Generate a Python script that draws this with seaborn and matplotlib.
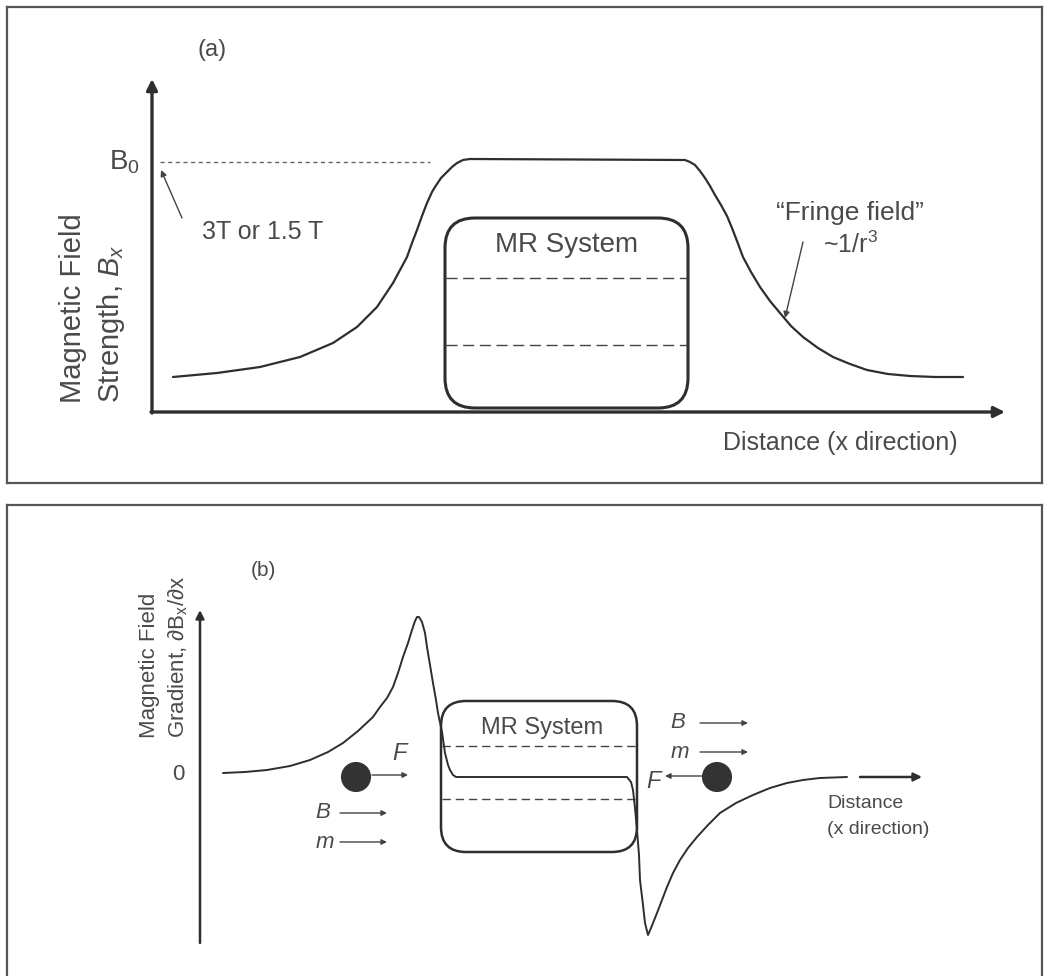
import numpy as np
import seaborn as sns
import matplotlib.pyplot as plt
from matplotlib.patches import FancyBboxPatch

# ---- Data ----
# (a) field strength vs distance (units: distance from the axis origin)
dist_a = [21, 65, 108, 148, 181, 205, 225, 241, 248, 255, 260, 265, 270, 275, 280, 283,
          289, 295, 300, 305, 311, 318,
          533, 538, 543, 548, 553, 558, 563, 569, 575, 580, 585, 591, 599, 608, 618, 628,
          639, 651, 666, 681, 698, 715, 736, 758, 783, 811]
field_a = [35, 39, 45, 55, 69, 85, 105, 129, 142, 155, 169, 182, 196, 209, 220, 225,
           234, 240, 245, 249, 252, 253,
           252, 250, 247, 241, 234, 226, 217, 207, 196, 184, 171, 155, 140, 125, 111, 99,
           86, 75, 64, 55, 48, 42, 38, 36, 35, 35]
b0_level = 250

# (b) field gradient vs distance
dist_b = [23, 45, 67, 90, 110, 128, 143, 158, 173, 180, 187, 193, 198, 203, 208, 212,
          215, 217, 219, 222, 225, 227, 230, 233, 236, 238, 242, 245, 248, 250, 253, 256,
          427, 431, 433, 435, 437, 439, 440, 443, 445, 448, 451, 457, 462, 467, 473, 480,
          488, 497, 508, 520, 536, 553, 570, 587, 603, 620, 647]
grad_b = [2, 3, 5, 9, 15, 23, 32, 44, 58, 68, 77, 88, 102, 118, 132, 145,
          154, 158, 158, 153, 142, 128, 110, 92, 75, 62, 43, 22, 10, 5, 0, -2,
          -2, -7, -15, -33, -55, -80, -105, -130, -148, -160, -153, -138, -125, -112, -98, -85,
          -73, -62, -50, -38, -28, -20, -13, -8, -5, -3, -2]

# particles in panel (b): position along x
particle_x = [156, 517]

sns.set_theme(style='white')
plt.rcParams['font.family'] = ['Liberation Sans', 'DejaVu Sans']
plt.rcParams['mathtext.fontset'] = 'custom'
plt.rcParams['mathtext.rm'] = 'Liberation Sans'
plt.rcParams['mathtext.it'] = 'Liberation Sans:italic'
plt.rcParams['mathtext.default'] = 'regular'
plt.rcParams['lines.solid_joinstyle'] = 'round'

LINE = '#2e2e2e'
TXT = '#4a4a4a'
W, H = 1049, 976

fig = plt.figure(figsize=(W / 100, H / 100), dpi=100)

# ---- Panel (a) ----
ax = fig.add_axes([7 / W, 1 - 483 / H, 1035 / W, 476 / H])
ax.set_xlim(-145, 890)
ax.set_ylim(-71, 405)
ax.set_xticks([]); ax.set_yticks([])
for s in ax.spines.values():
    s.set_color('#555555'); s.set_linewidth(1.6)

arr = dict(arrowstyle='-|>', color=LINE, lw=2.4, mutation_scale=16, shrinkA=0, shrinkB=0)
ax.annotate('', xy=(0, 333), xytext=(0, -1), arrowprops=arr)
ax.annotate('', xy=(853, 0), xytext=(-1, 0), arrowprops=arr)

sns.lineplot(x=dist_a, y=field_a, ax=ax, color=LINE, lw=1.6, sort=False, estimator=None)

ax.plot([8, 278], [b0_level, b0_level], color='#666666', lw=1, ls=(0, (3, 2.5)))
ax.text(-12, b0_level, 'B$_0$', ha='right', va='center', fontsize=20, color=TXT)
ax.annotate('', xy=(9, 242), xytext=(30, 194),
            arrowprops=dict(arrowstyle='-|>', color='#444444', lw=1, mutation_scale=9,
                            shrinkA=0, shrinkB=0))
ax.text(50, 180, '3T or 1.5 T', ha='left', va='center', fontsize=18, color=TXT)

box = FancyBboxPatch((293, 4), 243, 190, boxstyle='round,pad=0,rounding_size=30',
                     fc='none', ec=LINE, lw=2.2)
ax.add_patch(box)
for yy in [134, 67]:
    ax.plot([294, 535], [yy, yy], color='#444444', lw=1, ls=(0, (8, 4)))
ax.text(415, 167, 'MR System', ha='center', va='center', fontsize=20, color=TXT)

ax.text(698, 199, '\u201cFringe field\u201d', ha='center', va='center', fontsize=19, color=TXT)
ax.text(698, 167, '~1/r$^3$', ha='center', va='center', fontsize=18, color=TXT)
ax.annotate('', xy=(633, 94), xytext=(651, 170),
            arrowprops=dict(arrowstyle='-|>', color='#444444', lw=1, mutation_scale=9,
                            shrinkA=0, shrinkB=0))
ax.text(688, -31, 'Distance (x direction)', ha='center', va='center', fontsize=18, color=TXT)
ax.text(60, 362, '(a)', ha='center', va='center', fontsize=17, color=TXT)
ax.text(-79, 9, 'Magnetic Field', rotation=90, rotation_mode='anchor', ha='left',
        va='center', fontsize=21, color=TXT)
ax.text(-41, 9, 'Strength, $\\mathit{B_x}$', rotation=90, rotation_mode='anchor',
        ha='left', va='center', fontsize=21, color=TXT)

# ---- Panel (b) ----
bx = fig.add_axes([7 / W, 0, 1035 / W, 471 / H])
bx.set_xlim(-193, 842)
bx.set_ylim(-201, 270)
bx.set_xticks([]); bx.set_yticks([])
for s in bx.spines.values():
    s.set_color('#555555'); s.set_linewidth(1.6)
bx.spines['bottom'].set_visible(False)

arr_b = dict(arrowstyle='-|>', color=LINE, lw=1.8, mutation_scale=12, shrinkA=0, shrinkB=0)
bx.annotate('', xy=(0, 165), xytext=(0, -168), arrowprops=arr_b)
bx.annotate('', xy=(722, -2), xytext=(660, -2), arrowprops=arr_b)

box_b = FancyBboxPatch((241, -77), 196, 151, boxstyle='round,pad=0,rounding_size=25',
                       fc='none', ec=LINE, lw=1.8)
bx.add_patch(box_b)
for yy in [29, -24]:
    bx.plot([242, 436], [yy, yy], color='#444444', lw=1, ls=(0, (6, 3.5)))
bx.text(342, 47, 'MR System', ha='center', va='center', fontsize=17, color=TXT)

sns.lineplot(x=dist_b, y=grad_b, ax=bx, color=LINE, lw=1.4, sort=False, estimator=None)

sns.scatterplot(x=particle_x, y=[-2, -2], ax=bx, s=470, color='#333333', edgecolor='none',
                zorder=5)

thin = dict(arrowstyle='-|>', color='#444444', lw=1, mutation_scale=8, shrinkA=0, shrinkB=0)
bx.annotate('', xy=(208, 0), xytext=(172, 0), arrowprops=thin)
bx.text(199, 22, 'F', ha='center', va='center', fontsize=17, style='italic', color=TXT)
bx.text(123, -38, 'B', ha='center', va='center', fontsize=16, style='italic', color=TXT)
bx.annotate('', xy=(187, -38), xytext=(140, -38), arrowprops=thin)
bx.text(125, -67, 'm', ha='center', va='center', fontsize=16, style='italic', color=TXT)
bx.annotate('', xy=(187, -67), xytext=(140, -67), arrowprops=thin)

bx.annotate('', xy=(465, -1), xytext=(502, -1), arrowprops=thin)
bx.text(453, -7, 'F', ha='center', va='center', fontsize=17, style='italic', color=TXT)
bx.text(478, 53, 'B', ha='center', va='center', fontsize=16, style='italic', color=TXT)
bx.annotate('', xy=(548, 52), xytext=(500, 52), arrowprops=thin)
bx.text(480, 23, 'm', ha='center', va='center', fontsize=16, style='italic', color=TXT)
bx.annotate('', xy=(548, 23), xytext=(500, 23), arrowprops=thin)

bx.text(627, -28, 'Distance', ha='left', va='center', fontsize=14, color=TXT)
bx.text(627, -54, '(x direction)', ha='left', va='center', fontsize=14, color=TXT)
bx.text(-22, 0, '0', ha='center', va='center', fontsize=16, color=TXT)
bx.text(63, 205, '(b)', ha='center', va='center', fontsize=15, color=TXT)
bx.text(-50, 37, 'Magnetic Field', rotation=90, rotation_mode='anchor', ha='left',
        va='center', fontsize=16, color=TXT)
bx.text(-22, 37, 'Gradient, \u2202B$_x$/\u2202x', rotation=90, rotation_mode='anchor',
        ha='left', va='center', fontsize=16, color=TXT)

fig.savefig('out.png', dpi=100)
